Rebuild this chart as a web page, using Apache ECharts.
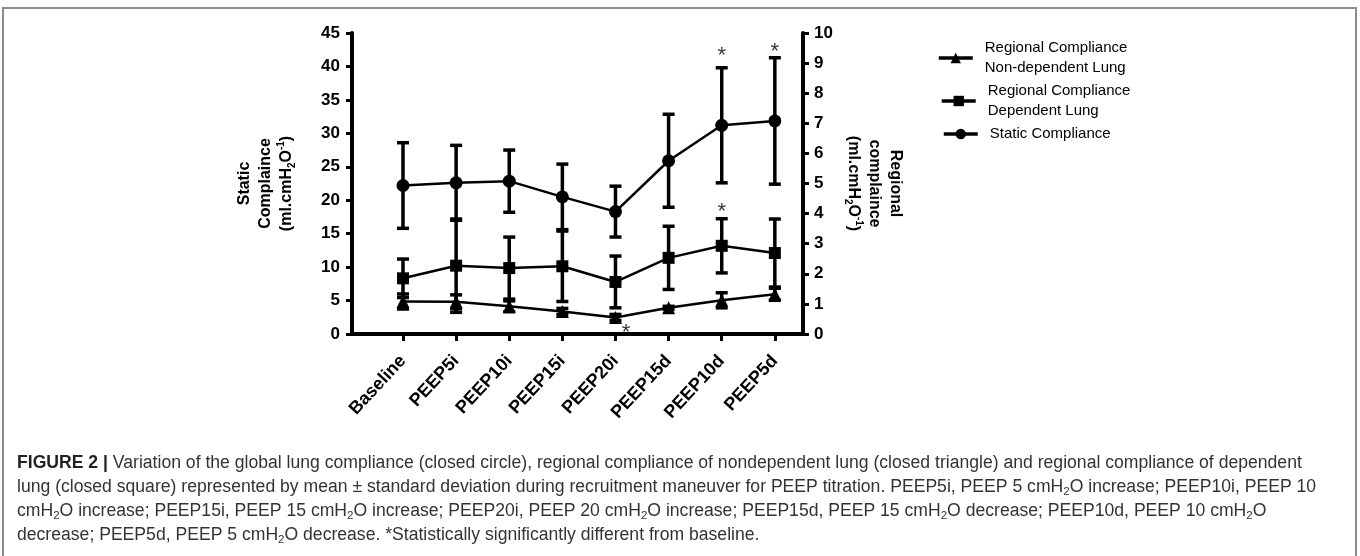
<!DOCTYPE html>
<html>
<head>
<meta charset="utf-8">
<script src="https://cdn.jsdelivr.net/npm/echarts@6/dist/echarts.min.js"></script>
<style>html,body{margin:0;padding:0;background:#fff}#c{width:1360px;height:556px}</style>
</head>
<body>
<div id="c"></div>
<script>
// ---- data ----
const categories = ['Baseline','PEEP5i','PEEP10i','PEEP15i','PEEP20i','PEEP15d','PEEP10d','PEEP5d'];
// Static compliance (left axis, ml.cmH2O-1)
const staticMean = [22.2, 22.6, 22.85, 20.5, 18.3, 25.9, 31.2, 31.85];
const staticSD   = [6.4, 5.6, 4.65, 4.9, 3.8, 6.95, 8.6, 9.45];
// Regional compliance, dependent lung (right axis)
const depMean = [1.85, 2.27, 2.19, 2.25, 1.73, 2.53, 2.93, 2.69];
const depSD   = [0.64, 1.55, 1.03, 1.17, 0.86, 1.05, 0.90, 1.13];
// Regional compliance, non-dependent lung (right axis)
const nondepMean = [1.08, 1.07, 0.92, 0.75, 0.55, 0.87, 1.12, 1.32];
const nondepSD   = [0.25, 0.23, 0.18, 0.10, 0.10, 0.05, 0.25, 0.20];
// significance markers [category position, axis value]
const starsLeft  = [[6, 42.1], [7, 42.8]];
const starsRight = [[6, 4.18], [4.2, 0.17]];
const leftTicks = {min: 0, max: 45, interval: 5};
const rightTicks = {min: 0, max: 10, interval: 1};
const seriesNames = ['Regional Compliance Non-dependent Lung','Regional Compliance Dependent Lung','Static Compliance'];
const legendLabels = ['Regional Compliance\nNon-dependent Lung','Regional Compliance\nDependent Lung','Static Compliance'];
const captionLines = [
  '{b|FIGURE 2 |} Variation of the global lung compliance (closed circle), regional compliance of nondependent lung (closed triangle) and regional compliance of dependent',
  'lung (closed square) represented by mean \u00b1 standard deviation during recruitment maneuver for PEEP titration. PEEP5i, PEEP 5 cmH{s|2}O increase; PEEP10i, PEEP 10',
  'cmH{s|2}O increase; PEEP15i, PEEP 15 cmH{s|2}O increase; PEEP20i, PEEP 20 cmH{s|2}O increase; PEEP15d, PEEP 15 cmH{s|2}O decrease; PEEP10d, PEEP 10 cmH{s|2}O',
  'decrease; PEEP5d, PEEP 5 cmH{s|2}O decrease. *Statistically significantly different from baseline.'
];

const FONT = 'Liberation Sans, Arial, Helvetica, sans-serif';
const chart = echarts.init(document.getElementById('c'), null, {renderer: 'canvas'});

function pts(arr){ return arr.map((v,i)=>[i, v]); }
function errData(mean, sd){ return mean.map((m,i)=>[i, m - sd[i], m + sd[i]]); }
function errSeries(mean, sd, yIdx){
  return {
    type: 'custom', yAxisIndex: yIdx, silent: true, z: 3,
    data: errData(mean, sd),
    encode: {x: 0, y: [1, 2]},
    renderItem: function(params, api){
      const x = api.value(0);
      const lo = api.coord([x, api.value(1)]);
      const hi = api.coord([x, api.value(2)]);
      const w = 6;
      const st = {stroke: '#000', lineWidth: 3.5};
      return {type: 'group', children: [
        {type: 'line', shape: {x1: lo[0], y1: lo[1], x2: hi[0], y2: hi[1]}, style: st},
        {type: 'line', shape: {x1: hi[0]-w, y1: hi[1], x2: hi[0]+w, y2: hi[1]}, style: st},
        {type: 'line', shape: {x1: lo[0]-w, y1: lo[1], x2: lo[0]+w, y2: lo[1]}, style: st}
      ]};
    }
  };
}
function starSeries(data, yIdx){
  return {
    type: 'scatter', yAxisIndex: yIdx, data: data, symbol: 'circle', symbolSize: 1,
    itemStyle: {color: 'rgba(0,0,0,0)'}, silent: true, z: 6,
    label: {show: true, position: 'inside', formatter: '*', fontSize: 22, color: '#000', fontFamily: FONT, offset: [0, 4]}
  };
}
function legendAt(idx, left, top){
  return {
    data: [seriesNames[idx]], left: left, top: top, orient: 'vertical',
    itemWidth: 34, itemHeight: 13, selectedMode: false,
    lineStyle: {width: 3.5, color: '#000'},
    formatter: function(){ return legendLabels[idx]; },
    textStyle: {fontFamily: FONT, fontSize: 15, color: '#000', lineHeight: 20, padding: [0,0,0,7]}
  };
}
const axisName = {fontFamily: FONT, fontWeight: 'bold', fontSize: 16, color: '#000', lineHeight: 21,
  rich: {
    a: {fontFamily: FONT, fontWeight: 'bold', fontSize: 16, color: '#000', lineHeight: 21},
    s: {fontFamily: FONT, fontWeight: 'bold', fontSize: 10, color: '#000', lineHeight: 21, verticalAlign: 'bottom', padding: [6,0,0,0]},
    p: {fontFamily: FONT, fontWeight: 'bold', fontSize: 10, color: '#000', lineHeight: 21, verticalAlign: 'top', padding: [0,0,6,0]}
  }};

const graphics = [{
  type: 'polyline', silent: true,
  shape: {points: [[3, 560], [3, 8], [1356, 8], [1356, 560]]},
  style: {stroke: '#8c8c8c', lineWidth: 2, fill: null}
}];
captionLines.forEach(function(t, i){
  graphics.push({
    type: 'text', silent: true,
    style: {
      x: 17, y: 463 + i * 24, text: t, verticalAlign: 'middle',
      fontFamily: FONT, fontSize: 17.6, fill: '#333',
      rich: {
        b: {fontFamily: FONT, fontSize: 17.6, fontWeight: 'bold', fill: '#222'},
        s: {fontFamily: FONT, fontSize: 11.5, fill: '#333', padding: [9,0,0,0]}
      }
    }
  });
});

const option = {
  backgroundColor: '#fff',
  animation: false,
  grid: {left: 352, top: 33, width: 451, height: 301, containLabel: false},
  legend: [legendAt(0, 932, 33), legendAt(1, 935, 76), legendAt(2, 937, 119)],
  xAxis: {
    type: 'value', min: -0.96, max: 7.53,
    axisLine: {show: true, onZero: false, lineStyle: {color: '#000', width: 4}},
    axisTick: {show: true, customValues: categories.map((c,i)=>i), length: 7, lineStyle: {color: '#000', width: 3}},
    axisLabel: {customValues: categories.map((c,i)=>i), formatter: function(v){ return categories[Math.round(v)]; },
      rotate: 47, margin: 24, fontFamily: FONT, fontWeight: 'bold', fontSize: 18, color: '#000'},
    splitLine: {show: false}
  },
  yAxis: [{
    type: 'value', position: 'left', min: leftTicks.min, max: leftTicks.max, interval: leftTicks.interval,
    name: 'Static\nComplaince\n{a|(ml.cmH}{s|2}{a|O}{p|-1}{a|)}', nameLocation: 'middle', nameGap: 55, nameRotate: 90,
    nameTextStyle: axisName,
    axisLine: {show: true, onZero: false, lineStyle: {color: '#000', width: 4}},
    axisTick: {show: true, length: 6, lineStyle: {color: '#000', width: 3}},
    axisLabel: {margin: 12, fontFamily: FONT, fontWeight: 'bold', fontSize: 17, color: '#000'},
    splitLine: {show: false}
  }, {
    type: 'value', position: 'right', min: rightTicks.min, max: rightTicks.max, interval: rightTicks.interval,
    name: 'Regional\ncomplaince\n{a|(ml.cmH}{s|2}{a|O}{p|-1}{a|)}', nameLocation: 'middle', nameGap: 40, nameRotate: -90,
    nameTextStyle: axisName,
    axisLine: {show: true, onZero: false, lineStyle: {color: '#000', width: 4}},
    axisTick: {show: true, length: 6, lineStyle: {color: '#000', width: 3}},
    axisLabel: {margin: 11, fontFamily: FONT, fontWeight: 'bold', fontSize: 17, color: '#000'},
    splitLine: {show: false}
  }],
  series: [
    {name: seriesNames[0], type: 'line', yAxisIndex: 1, data: pts(nondepMean), symbol: 'triangle', symbolSize: 13,
      lineStyle: {color: '#000', width: 2.5}, itemStyle: {color: '#000'}, z: 5},
    {name: seriesNames[1], type: 'line', yAxisIndex: 1, data: pts(depMean), symbol: 'rect', symbolSize: 12,
      lineStyle: {color: '#000', width: 2.5}, itemStyle: {color: '#000'}, z: 5},
    {name: seriesNames[2], type: 'line', yAxisIndex: 0, data: pts(staticMean), symbol: 'circle', symbolSize: 13,
      lineStyle: {color: '#000', width: 2.5}, itemStyle: {color: '#000'}, z: 5},
    errSeries(nondepMean, nondepSD, 1),
    errSeries(depMean, depSD, 1),
    errSeries(staticMean, staticSD, 0),
    starSeries(starsLeft, 0),
    starSeries(starsRight, 1)
  ],
  graphic: graphics
};
chart.setOption(option);
</script>
</body>
</html>
